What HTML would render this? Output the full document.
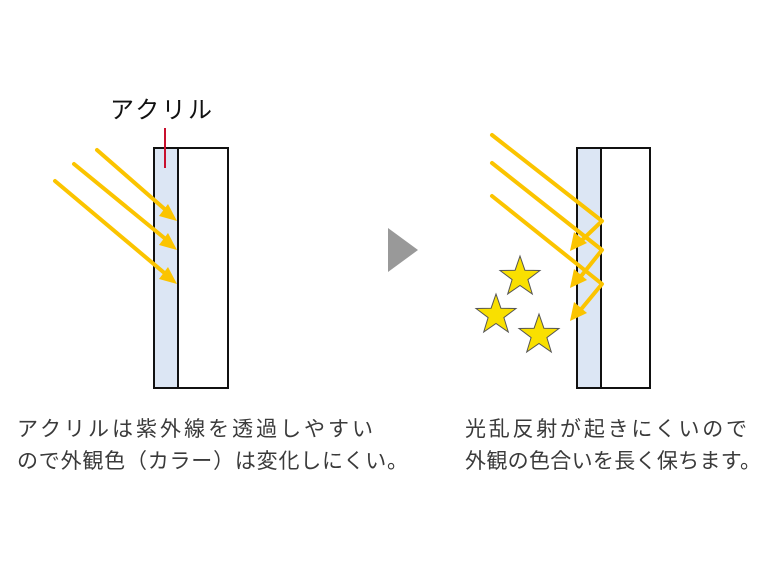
<!DOCTYPE html>
<html><head><meta charset="utf-8"><style>html,body{margin:0;padding:0;background:#fff}svg{display:block}</style></head>
<body>
<svg width="768" height="570" viewBox="0 0 768 570" xmlns="http://www.w3.org/2000/svg">
<style>text{font-family:"Liberation Sans","Noto Sans CJK JP",sans-serif;fill:#3a3a3a;font-size:21px}</style>
<!-- left panel -->
<rect x="154" y="148" width="24" height="240" fill="#dce6f4" stroke="#111" stroke-width="2"/>
<rect x="178" y="148" width="50" height="240" fill="#fff" stroke="#111" stroke-width="2"/>
<line x1="165" y1="128" x2="165" y2="168" stroke="#c8102e" stroke-width="2"/>
<text x="110" y="118" style="fill:#111;font-size:24px" textLength="102" lengthAdjust="spacing">アクリル</text>
<g stroke="#fbc400" stroke-width="4" fill="none" stroke-linecap="round">
<line x1="97" y1="150" x2="168" y2="212"/>
<line x1="74" y1="164" x2="168" y2="241"/>
<line x1="55" y1="181" x2="168" y2="276"/>
</g>
<g fill="#fbc400">
<polygon points="177,221 159,216 168,204"/>
<polygon points="177,250 159,245 168,233"/>
<polygon points="177,284 159,279 168,267"/>
</g>
<!-- triangle -->
<polygon points="388,228 388,272 418,250" fill="#999"/>
<!-- right panel -->
<rect x="577" y="148" width="24" height="240" fill="#dce6f4" stroke="#111" stroke-width="2"/>
<rect x="601" y="148" width="49" height="240" fill="#fff" stroke="#111" stroke-width="2"/>
<g stroke="#fbc400" stroke-width="4" fill="none" stroke-linecap="round" stroke-linejoin="round">
<polyline points="492,135 602,221 578,244"/>
<polyline points="492,163 602,250 578,280"/>
<polyline points="492,196 602,284 578,313"/>
</g>
<g fill="#fbc400">
<polygon points="570,251 574,232 587,243"/>
<polygon points="570,288 574,269 587,280"/>
<polygon points="570,321 574,302 587,313"/>
</g>
<g fill="#f9e000" stroke="#555" stroke-width="1">
<polygon transform="translate(520,277)" points="0,-21 4.9,-6.8 20,-6.5 7.9,2.6 12.3,17 0,8.5 -12.3,17 -7.9,2.6 -20,-6.5 -4.9,-6.8"/>
<polygon transform="translate(496,315)" points="0,-21 4.9,-6.8 20,-6.5 7.9,2.6 12.3,17 0,8.5 -12.3,17 -7.9,2.6 -20,-6.5 -4.9,-6.8"/>
<polygon transform="translate(539,335)" points="0,-21 4.9,-6.8 20,-6.5 7.9,2.6 12.3,17 0,8.5 -12.3,17 -7.9,2.6 -20,-6.5 -4.9,-6.8"/>
</g>
<!-- captions -->
<text x="17" y="436" textLength="356" lengthAdjust="spacing">アクリルは紫外線を透過しやすい</text>
<text x="17" y="468" textLength="391" lengthAdjust="spacing">ので外観色（カラー）は変化しにくい。</text>
<text x="465" y="436" textLength="282" lengthAdjust="spacing">光乱反射が起きにくいので</text>
<text x="465" y="468" textLength="296" lengthAdjust="spacing">外観の色合いを長く保ちます。</text>
</svg>
</body></html>
